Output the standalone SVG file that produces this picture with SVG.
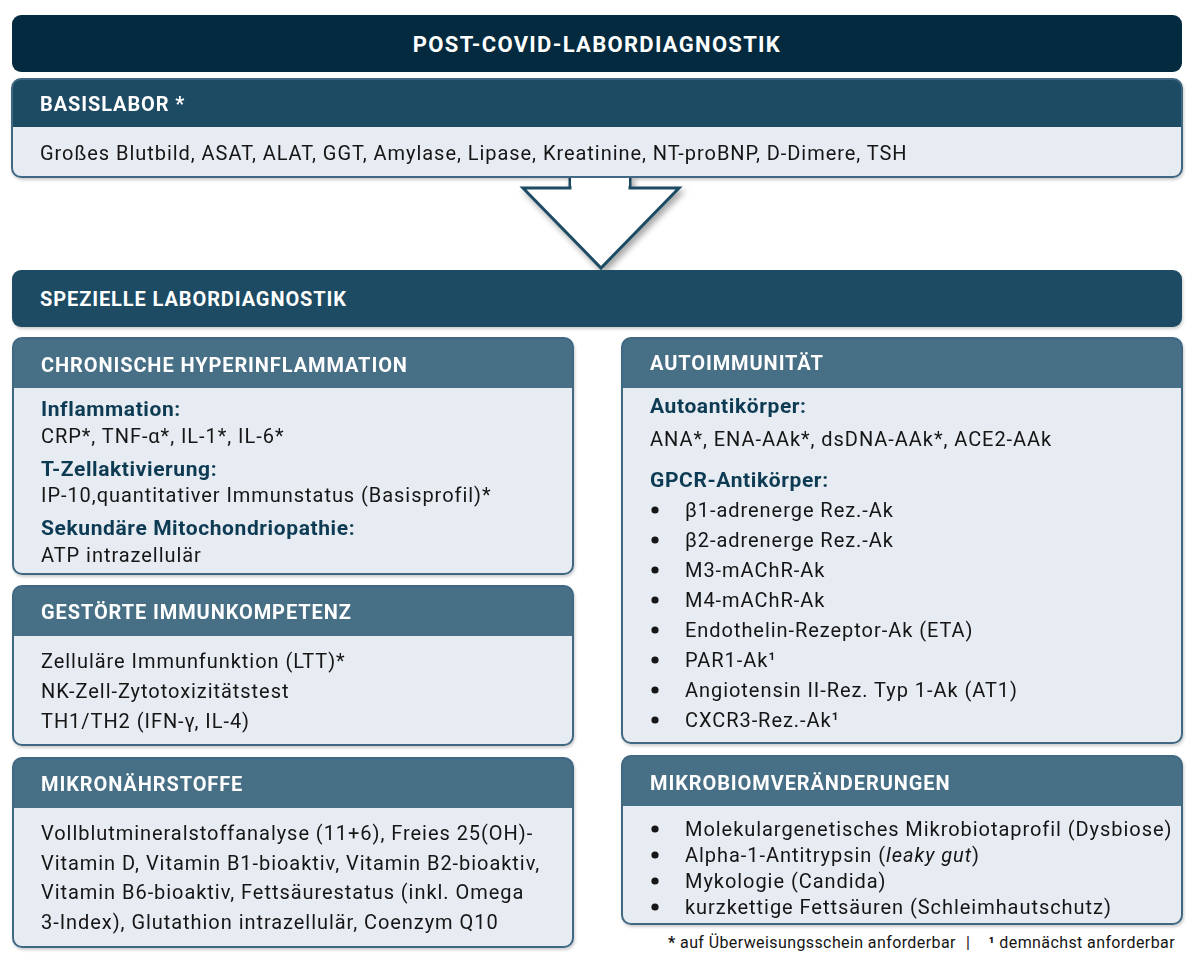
<svg xmlns="http://www.w3.org/2000/svg" width="1200" height="963" viewBox="0 0 1200 963">
<style>
text{font-family:Roboto,"Liberation Sans",sans-serif;}
.ttl{font-size:22px;font-weight:bold;fill:#ffffff;letter-spacing:1.3px;}
.hd{font-size:20px;font-weight:bold;fill:#ffffff;letter-spacing:0.9px;}
.tx{font-size:20px;fill:#141414;letter-spacing:0.95px;}
.sub{font-size:21px;font-weight:bold;fill:#0d3a53;letter-spacing:0.6px;}
.ft{font-size:16px;fill:#141414;letter-spacing:0.4px;}
.body{fill:#e7ecf2;}
.frame{fill:none;stroke:#3f6882;stroke-width:2;}
.h1{fill:#1f4b63;}
.h2{fill:#476f86;}
.dot{fill:#141414;}
</style>
<defs>
<filter id="sh" x="-20%" y="-20%" width="150%" height="150%">
<feDropShadow dx="3" dy="4" stdDeviation="3" flood-color="#000" flood-opacity="0.35"/>
</filter>
<filter id="bs" x="-5%" y="-5%" width="110%" height="120%">
<feDropShadow dx="1" dy="2" stdDeviation="1.5" flood-color="#000" flood-opacity="0.2"/>
</filter>
</defs>
<rect width="1200" height="963" fill="#ffffff"/>

<g id="connectors">
<polygon points="570,176 570,188 523,188 601,268 679,188 630,188 630,176" fill="#ffffff" stroke="#1f4b63" stroke-width="3" stroke-linejoin="miter" filter="url(#sh)"/>
</g>

<g id="title">
<rect x="12" y="15" width="1170" height="57" rx="9" fill="#032a3e"/>
<text class="ttl" x="597" y="52" text-anchor="middle">POST-COVID-LABORDIAGNOSTIK</text>
</g>

<g id="basislabor" filter="url(#bs)">
<rect class="body" x="12" y="79" width="1170" height="98" rx="9"/>
<path class="h1" d="M12,127 L12,88 Q12,79 21,79 L1173,79 Q1182,79 1182,88 L1182,127 Z"/>
<rect class="frame" x="12" y="79" width="1170" height="98" rx="9"/>
<text class="hd" x="40" y="111">BASISLABOR *</text>
<text class="tx" x="40" y="160">Großes Blutbild, ASAT, ALAT, GGT, Amylase, Lipase, Kreatinine, NT-proBNP, D-Dimere, TSH</text>
</g>
<polygon points="571,178 629,178 629,186 571,186" fill="#ffffff"/>

<g id="speziell">
<rect x="12" y="270" width="1170" height="57" rx="9" fill="#1f4b63" filter="url(#bs)"/>
<text class="hd" x="40" y="306">SPEZIELLE LABORDIAGNOSTIK</text>
</g>

<g id="hyperinflammation" filter="url(#bs)">
<rect class="body" x="13" y="338" width="560" height="236" rx="9"/>
<path class="h2" d="M13,388 L13,347 Q13,338 22,338 L564,338 Q573,338 573,347 L573,388 Z"/>
<rect class="frame" x="13" y="338" width="560" height="236" rx="9"/>
<text class="hd" x="41" y="372">CHRONISCHE HYPERINFLAMMATION</text>
<text class="sub" x="41" y="416">Inflammation:</text>
<text class="tx" x="41" y="443">CRP*, TNF-α*, IL-1*, IL-6*</text>
<text class="sub" x="41" y="476">T-Zellaktivierung:</text>
<text class="tx" x="41" y="502">IP-10,quantitativer Immunstatus (Basisprofil)*</text>
<text class="sub" x="41" y="535">Sekundäre Mitochondriopathie:</text>
<text class="tx" x="41" y="562">ATP intrazellulär</text>
</g>

<g id="immunkompetenz" filter="url(#bs)">
<rect class="body" x="13" y="586" width="560" height="159" rx="9"/>
<path class="h2" d="M13,636 L13,595 Q13,586 22,586 L564,586 Q573,586 573,595 L573,636 Z"/>
<rect class="frame" x="13" y="586" width="560" height="159" rx="9"/>
<text class="hd" x="41" y="619">GESTÖRTE IMMUNKOMPETENZ</text>
<text class="tx" x="41" y="668">Zelluläre Immunfunktion (LTT)*</text>
<text class="tx" x="41" y="698">NK-Zell-Zytotoxizitätstest</text>
<text class="tx" x="41" y="728">TH1/TH2 (IFN-γ, IL-4)</text>
</g>

<g id="mikronaehrstoffe" filter="url(#bs)">
<rect class="body" x="13" y="758" width="560" height="189" rx="9"/>
<path class="h2" d="M13,808 L13,767 Q13,758 22,758 L564,758 Q573,758 573,767 L573,808 Z"/>
<rect class="frame" x="13" y="758" width="560" height="189" rx="9"/>
<text class="hd" x="41" y="791">MIKRONÄHRSTOFFE</text>
<text class="tx" x="41" y="840">Vollblutmineralstoffanalyse (11+6), Freies 25(OH)-</text>
<text class="tx" x="41" y="870">Vitamin D, Vitamin B1-bioaktiv, Vitamin B2-bioaktiv,</text>
<text class="tx" x="41" y="899">Vitamin B6-bioaktiv, Fettsäurestatus (inkl. Omega</text>
<text class="tx" x="41" y="929">3-Index), Glutathion intrazellulär, Coenzym Q10</text>
</g>

<g id="autoimmunitaet" filter="url(#bs)">
<rect class="body" x="622" y="338" width="560" height="405" rx="9"/>
<path class="h2" d="M622,388 L622,347 Q622,338 631,338 L1173,338 Q1182,338 1182,347 L1182,388 Z"/>
<rect class="frame" x="622" y="338" width="560" height="405" rx="9"/>
<text class="hd" x="650" y="370">AUTOIMMUNITÄT</text>
<text class="sub" x="650" y="413">Autoantikörper:</text>
<text class="tx" x="650" y="446">ANA*, ENA-AAk*, dsDNA-AAk*, ACE2-AAk</text>
<text class="sub" x="650" y="487">GPCR-Antikörper:</text>
<circle class="dot" cx="655" cy="510" r="3.6"/><text class="tx" x="685" y="517">β1-adrenerge Rez.-Ak</text>
<circle class="dot" cx="655" cy="540" r="3.6"/><text class="tx" x="685" y="547">β2-adrenerge Rez.-Ak</text>
<circle class="dot" cx="655" cy="570" r="3.6"/><text class="tx" x="685" y="577">M3-mAChR-Ak</text>
<circle class="dot" cx="655" cy="600" r="3.6"/><text class="tx" x="685" y="607">M4-mAChR-Ak</text>
<circle class="dot" cx="655" cy="630" r="3.6"/><text class="tx" x="685" y="637">Endothelin-Rezeptor-Ak (ETA)</text>
<circle class="dot" cx="655" cy="660" r="3.6"/><text class="tx" x="685" y="667">PAR1-Ak¹</text>
<circle class="dot" cx="655" cy="690" r="3.6"/><text class="tx" x="685" y="697">Angiotensin II-Rez. Typ 1-Ak (AT1)</text>
<circle class="dot" cx="655" cy="720" r="3.6"/><text class="tx" x="685" y="727">CXCR3-Rez.-Ak¹</text>
</g>

<g id="mikrobiom" filter="url(#bs)">
<rect class="body" x="622" y="756" width="560" height="168" rx="9"/>
<path class="h2" d="M622,806 L622,765 Q622,756 631,756 L1173,756 Q1182,756 1182,765 L1182,806 Z"/>
<rect class="frame" x="622" y="756" width="560" height="168" rx="9"/>
<text class="hd" x="650" y="790">MIKROBIOMVERÄNDERUNGEN</text>
<circle class="dot" cx="655" cy="829" r="3.6"/><text class="tx" x="685" y="836" letter-spacing="0.6">Molekulargenetisches Mikrobiotaprofil (Dysbiose)</text>
<circle class="dot" cx="655" cy="855" r="3.6"/><text class="tx" x="685" y="862">Alpha-1-Antitrypsin (<tspan font-style="italic">leaky gut</tspan>)</text>
<circle class="dot" cx="655" cy="881" r="3.6"/><text class="tx" x="685" y="888">Mykologie (Candida)</text>
<circle class="dot" cx="655" cy="907" r="3.6"/><text class="tx" x="685" y="914" letter-spacing="0.8">kurzkettige Fettsäuren (Schleimhautschutz)</text>
</g>

<g id="footnote">
<text class="ft" x="668" y="948"><tspan font-weight="bold">*</tspan> auf Überweisungsschein anforderbar</text>
<text class="ft" x="966" y="948">|</text>
<text class="ft" x="1175" y="948" text-anchor="end"><tspan font-weight="bold">¹</tspan> demnächst anforderbar</text>
</g>
</svg>
